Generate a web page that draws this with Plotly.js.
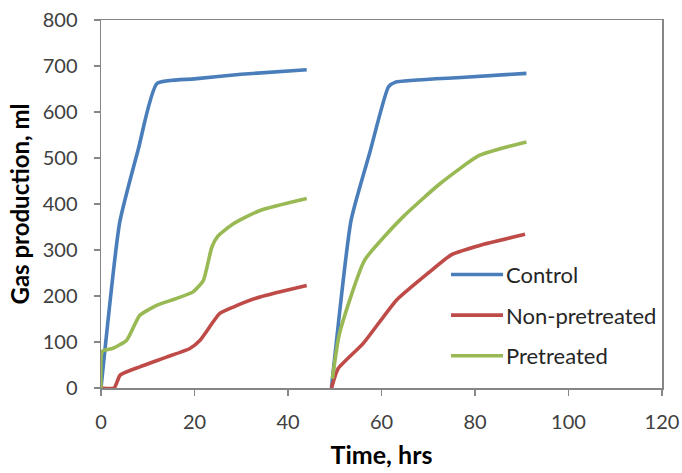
<!DOCTYPE html>
<html>
<head>
<meta charset="utf-8">
<script src="https://cdn.plot.ly/plotly-3.0.1.min.js"></script>
<style>html,body{margin:0;padding:0;background:#fff;}#chart{width:682px;height:473px;}</style>
</head>
<body>
<div id="chart"></div>
<script>
// Two consecutive runs separated by a gap (null)
var timeControl = [0, 4, 8, 12, 20, 30, 44, null, 49.3, 53.5, 57.5, 61.5, 63, 77, 91];
var control     = [0, 360, 520, 662, 672, 682, 692, null, 0, 365, 512, 655, 665, 675, 684];

var timeNon = [0, 2.8, 4.1, 8.3, 14, 19, 21.2, 25.4, 28.3, 34, 44, null, 49.3, 50.7, 56.1, 63.2, 70, 75, 81, 90.7];
var nonPretreated = [0, 0, 28, 46, 67, 86, 104, 162, 176, 198, 223, null, 0, 42, 97, 191, 250, 290, 310, 334];

var timePre = [0, 0.3, 2.5, 5.5, 8.3, 12, 16, 19.7, 21.9, 23.7, 25, 28.3, 34, 44, null, 49.5, 51, 56.4, 64.6, 72.5, 81, 91];
var pretreated = [0, 80, 86, 104, 158, 180, 194, 209, 234, 306, 330, 357, 386, 412, null, 20, 118, 278, 372, 444, 506, 535];

var seriesNames = ["Control", "Non-pretreated", "Pretreated"];
var colors = ["#4A7EBB", "#BE4B48", "#98B954"];
var xs = [timeControl, timeNon, timePre];
var ys = [control, nonPretreated, pretreated];

var traces = seriesNames.map(function(n, i){
  return {
    x: xs[i], y: ys[i], name: n, type: "scatter", mode: "lines",
    connectgaps: false, legendgroup: "g" + i,
    line: {color: colors[i], width: 3.6, shape: "spline", smoothing: 0.5}
  };
});

var fam = "Lato, 'Open Sans', sans-serif";
var tickFont = {family: fam, size: 20, color: "#404040"};
var layout = {
  width: 682, height: 473,
  margin: {l: 101, r: 20, t: 20, b: 85},
  paper_bgcolor: "#ffffff", plot_bgcolor: "#ffffff",
  showlegend: true,
  legend: {
    x: 0.615, y: 0.365, xanchor: "left", yanchor: "top",
    traceorder: "grouped", tracegroupgap: 9, itemwidth: 50,
    font: {family: fam, size: 22, color: "#262626"},
    bgcolor: "rgba(0,0,0,0)"
  },
  xaxis: {
    range: [0, 120], dtick: 20, tick0: 0,
    showgrid: false, zeroline: false,
    showline: true, linecolor: "#868686", linewidth: 1.5, mirror: true,
    ticks: "outside", ticklen: 6, tickcolor: "#868686", tickwidth: 1.5,
    tickfont: tickFont, ticklabelstandoff: 9,
    title: {text: "Time, hrs", font: {family: fam, size: 25, color: "#000", weight: "bold"}, standoff: 15}
  },
  yaxis: {
    range: [0, 800], dtick: 100, tick0: 0,
    showgrid: false, zeroline: false,
    showline: true, linecolor: "#868686", linewidth: 1.5, mirror: true,
    ticks: "outside", ticklen: 6, tickcolor: "#868686", tickwidth: 1.5,
    tickfont: tickFont, ticklabelstandoff: 12,
    title: {text: "Gas production, ml", font: {family: fam, size: 24, color: "#000", weight: "bold"}, standoff: 6}
  }
};
Plotly.newPlot("chart", traces, layout, {displayModeBar: false, staticPlot: true}).then(function(gd){
  // lengthen legend line samples to match the reference
  var paths = gd.querySelectorAll(".legend .legendlines path");
  paths.forEach(function(p){ p.setAttribute("d", "M5,0h52"); });
});
</script>
</body>
</html>
